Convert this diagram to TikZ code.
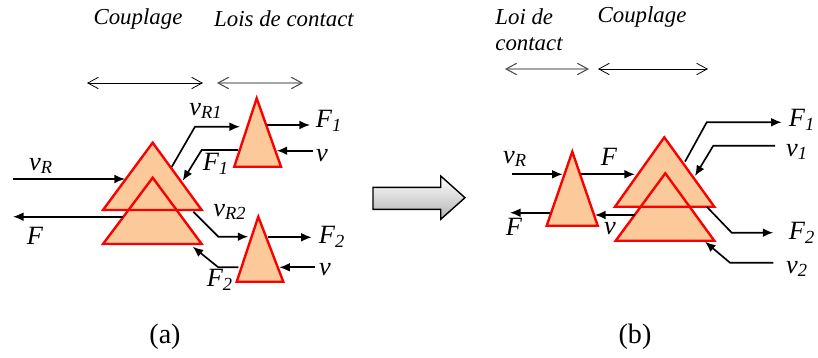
\documentclass[tikz,border=0pt]{standalone}
\usepackage{fontspec}
\setmainfont{Liberation Serif}
\usepackage{xcolor}
\usepackage{tikz}
\usetikzlibrary{arrows.meta}
\definecolor{peach}{RGB}{251,201,154}
\definecolor{trired}{RGB}{250,0,0}
\tikzset{
  tri/.style    ={draw=trired, fill=peach, line width=1.35pt, line join=miter},
  arr/.style    ={-{Latex[length=6pt,width=5pt]}, line width=0.95pt},
  span/.style   ={{Straight Barb[length=6pt,width=6.5pt]}-{Straight Barb[length=6pt,width=6.5pt]}, line width=0.45pt},
  spangray/.style={{Straight Barb[length=6pt,width=6.5pt,color=black!70]}-{Straight Barb[length=6pt,width=6.5pt,color=black!70]}, line width=0.6pt, draw=gray!70},
  lbl/.style    ={font=\fontsize{15}{16}\selectfont\itshape, inner sep=0pt},
  captxt/.style ={font=\fontsize{13}{15}\selectfont\itshape, inner sep=0pt},
  subtxt/.style ={font=\fontsize{16}{18}\selectfont, inner sep=0pt},
}

\begin{document}
\begin{tikzpicture}[x=0.02cm, y=-0.02cm]
  \useasboundingbox (0,0) rectangle (818,358);

  % ---- (a) : coupling then contact laws ----
  \node[captxt] (capA1) at (138,19) {Couplage};
  \node[captxt] (capA2) at (284,19) {Lois de contact};
  \coordinate (sa1) at (87,83);  \coordinate (sa2) at (203,83);
  \coordinate (sa3) at (217,83); \coordinate (sa4) at (303,83);
  \draw[span] (sa1) -- (sa2);
  \draw[spangray] (sa3) -- (sa4);

  \path[tri, draw=none] (152.7,142.7) -- (103,210) -- (201.7,210) -- cycle;
  \path[tri, draw=none] (152.7,177.7) -- (103,244) -- (201.7,244) -- cycle;
  \draw[tri, fill=none] (152.7,142.7) -- (103,210) -- (201.7,210) -- cycle;
  \draw[tri, fill=none] (152.7,177.7) -- (103,244) -- (201.7,244) -- cycle;
  \draw[tri] (256.7,98.3) -- (234.3,166.7) -- (281,166.7) -- cycle;
  \draw[tri] (258.3,216.7) -- (236.7,281.7) -- (283.3,281.7) -- cycle;

  \coordinate (vRa0) at (13,179);    \coordinate (vRa1) at (125,179);
  \coordinate (Fa0) at (123,216.7);  \coordinate (Fa1) at (13,216.7);
  \coordinate (vR1a) at (171.7,167); \coordinate (vR1b) at (195,126.7); \coordinate (vR1c) at (240,126.7);
  \coordinate (F1a) at (238,150);    \coordinate (F1b) at (201.7,150);  \coordinate (F1c) at (182.7,180.7);
  \coordinate (F1o0) at (266.7,125); \coordinate (F1o1) at (310,125);
  \coordinate (va0) at (313.3,150.7); \coordinate (va1) at (276.7,150.7);
  \coordinate (vR2a) at (193.3,211.7); \coordinate (vR2b) at (218.3,236.7); \coordinate (vR2c) at (248.3,236.7);
  \coordinate (F2o0) at (268.3,237.3); \coordinate (F2o1) at (311.7,237.3);
  \coordinate (vb0) at (315,267.3);  \coordinate (vb1) at (279.3,267.3);
  \coordinate (F2a) at (238.3,267.3); \coordinate (F2b) at (218.3,267.3); \coordinate (F2c) at (192.7,246.7);

  \draw[arr] (vRa0) -- (vRa1);
  \draw[arr] (Fa0) -- (Fa1);
  \draw[arr] (vR1a) -- (vR1b) -- (vR1c);
  \draw[arr] (F1a) -- (F1b) -- (F1c);
  \draw[arr] (F1o0) -- (F1o1);
  \draw[arr] (va0) -- (va1);
  \draw[arr] (vR2a) -- (vR2b) -- (vR2c);
  \draw[arr] (F2o0) -- (F2o1);
  \draw[arr] (vb0) -- (vb1);
  \draw[arr] (F2a) -- (F2b) -- (F2c);

  \node[lbl] (lvRa) at (41,166) {v\textsubscript{R}};
  \node[lbl] (lFa) at (35,236) {F};
  \node[lbl] (lvR1) at (206,111) {v\textsubscript{R1}};
  \node[lbl] (lF1a) at (216,164) {F\textsubscript{1}};
  \node[lbl] (lF1o) at (329,121) {F\textsubscript{1}};
  \node[lbl] (lva) at (322,156) {v};
  \node[lbl] (lvR2) at (230,212) {v\textsubscript{R2}};
  \node[lbl] (lF2o) at (332,237) {F\textsubscript{2}};
  \node[lbl] (lvb) at (325,270) {v};
  \node[lbl] (lF2a) at (220,280) {F\textsubscript{2}};

  % ---- transition arrow ----
  \shade[top color=white, bottom color=gray!60, draw=black, line width=0.8pt]
    (373,187.3) -- (440.7,187.3) -- (440.7,176) -- (465,197.7) -- (440.7,219.3)
    -- (440.7,209.3) -- (373,209.3) -- cycle;

  % ---- (b) : contact law then coupling ----
  \node[captxt, align=left] (capB1) at (529,30) {Loi de\\contact};
  \node[captxt] (capB2) at (642,17) {Couplage};
  \coordinate (sb1) at (505,69); \coordinate (sb2) at (589,69);
  \coordinate (sb3) at (598,69); \coordinate (sb4) at (708,69);
  \draw[spangray] (sb1) -- (sb2);
  \draw[span] (sb3) -- (sb4);

  \draw[tri] (572.3,151.7) -- (546.7,225.7) -- (597.7,225.7) -- cycle;
  \path[tri, draw=none] (664.3,137.3) -- (615,206.7) -- (714.3,206.7) -- cycle;
  \path[tri, draw=none] (665.3,173.3) -- (615.7,240.7) -- (714.3,240.7) -- cycle;
  \draw[tri, fill=none] (664.3,137.3) -- (615,206.7) -- (714.3,206.7) -- cycle;
  \draw[tri, fill=none] (665.3,173.3) -- (615.7,240.7) -- (714.3,240.7) -- cycle;

  \coordinate (vRb0) at (511.7,174.3); \coordinate (vRb1) at (562.7,174.3);
  \coordinate (Fm0) at (581,174.3);    \coordinate (Fm1) at (635,174.3);
  \coordinate (Fb0) at (550,212.7);    \coordinate (Fb1) at (510,212.7);
  \coordinate (vc0) at (635,215);      \coordinate (vc1) at (595,215);
  \coordinate (F1b0) at (685,161.7);   \coordinate (F1b1) at (706.7,122.3); \coordinate (F1b2) at (781.7,122.3);
  \coordinate (v1b0) at (775,145.7);   \coordinate (v1b1) at (713.3,145.7); \coordinate (v1b2) at (695,176);
  \coordinate (F2b0) at (706.7,206.7); \coordinate (F2b1) at (731.7,232.7); \coordinate (F2b2) at (773.3,232.7);
  \coordinate (v2b0) at (773.3,262.7); \coordinate (v2b1) at (730,262.7);   \coordinate (v2b2) at (705,241.7);

  \draw[arr] (vRb0) -- (vRb1);
  \draw[arr] (Fm0) -- (Fm1);
  \draw[arr] (Fb0) -- (Fb1);
  \draw[arr] (vc0) -- (vc1);
  \draw[arr] (F1b0) -- (F1b1) -- (F1b2);
  \draw[arr] (v1b0) -- (v1b1) -- (v1b2);
  \draw[arr] (F2b0) -- (F2b1) -- (F2b2);
  \draw[arr] (v2b0) -- (v2b1) -- (v2b2);

  \node[lbl] (lvRb) at (515,159) {v\textsubscript{R}};
  \node[lbl] (lFm) at (609,157) {F};
  \node[lbl] (lFb) at (514,227) {F};
  \node[lbl] (lvc) at (610,229) {v};
  \node[lbl] (lF1b) at (802,120) {F\textsubscript{1}};
  \node[lbl] (lv1b) at (797,152) {v\textsubscript{1}};
  \node[lbl] (lF2b) at (802,233) {F\textsubscript{2}};
  \node[lbl] (lv2b) at (797,269) {v\textsubscript{2}};

  % ---- sub-captions ----
  \node[subtxt] (suba) at (165,337) {(a)};
  \node[subtxt] (subb) at (635,337) {(b)};
\end{tikzpicture}
\end{document}
